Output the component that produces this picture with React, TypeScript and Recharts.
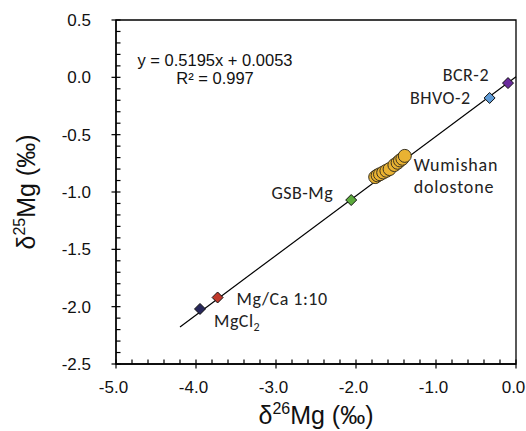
import React from 'react';
import {
  ComposedChart,
  Scatter,
  XAxis,
  YAxis,
  ReferenceArea,
  ReferenceLine,
  Label,
} from 'recharts';

// axis ticks (majors get a label, minors are short inside ticks)
const xTicks = [-5, -4.8, -4.6, -4.4, -4.2, -4, -3.8, -3.6, -3.4, -3.2, -3, -2.8, -2.6, -2.4, -2.2, -2, -1.8, -1.6, -1.4, -1.2, -1, -0.8, -0.6, -0.4, -0.2, 0];
const yTicks = [-2.5, -2.4, -2.3, -2.2, -2.1, -2, -1.9, -1.8, -1.7, -1.6, -1.5, -1.4, -1.3, -1.2, -1.1, -1, -0.9, -0.8, -0.7, -0.6, -0.5, -0.4, -0.3, -0.2, -0.1, 0, 0.1, 0.2, 0.3, 0.4, 0.5];

// reference materials
const refNames = ['BCR-2', 'BHVO-2', 'GSB-Mg', 'Mg/Ca 1:10', 'MgCl2'];
const refD26 = [-0.1, -0.33, -2.06, -3.73, -3.95];
const refD25 = [-0.05, -0.18, -1.07, -1.92, -2.02];

// Wumishan dolostone samples
const wumD26 = [-1.76, -1.73, -1.7, -1.66, -1.62, -1.58, -1.52, -1.48, -1.45, -1.42, -1.39];
const wumD25 = [-0.87, -0.855, -0.845, -0.83, -0.815, -0.8, -0.765, -0.745, -0.725, -0.71, -0.685];

// linear fit
const fitSlope = 0.5195;
const fitIntercept = 0.0053;
const fitR2 = 0.997;
const fitRange = [-4.2, 0];

const refColors: Record<string, string> = {
  'BCR-2': '#6a2a9c',
  'BHVO-2': '#5f9bd6',
  'GSB-Mg': '#5caa3c',
  'Mg/Ca 1:10': '#c0392b',
  MgCl2: '#27275a',
};

// label placement relative to the marker
const labelPos: Record<string, { dx: number; dy: number; anchor: string }> = {
  'BCR-2': { dx: -19, dy: -2, anchor: 'end' },
  'BHVO-2': { dx: -19, dy: 6, anchor: 'end' },
  'GSB-Mg': { dx: -18, dy: -1, anchor: 'end' },
  'Mg/Ca 1:10': { dx: 19, dy: 8, anchor: 'start' },
  MgCl2: { dx: 14, dy: 18, anchor: 'start' },
};

const refData = refNames.map((name, i) => ({ name, x: refD26[i], y: refD25[i] }));
const wumData = wumD26.map((x, i) => ({ x, y: wumD25[i], last: i === wumD26.length - 1 }));

const tickFont = "'Liberation Sans', Arial, sans-serif";
const labelFont = "Carlito, Lato, 'Noto Sans', sans-serif";

const XTick = (props: any) => {
  const { x, y, payload } = props;
  const v = payload.value;
  const major = Math.abs(v - Math.round(v)) < 1e-6;
  return (
    <g>
      <line x1={x} x2={x} y1={y - 4.5} y2={major ? y + 4.5 : y} stroke="#000" strokeWidth={1.2} />
      {major && (
        <text x={x - 2.5} y={y + 29} textAnchor="middle" fontSize={17} fontFamily={tickFont} fill="#111">
          {v.toFixed(1)}
        </text>
      )}
    </g>
  );
};

const YTick = (props: any) => {
  const { x, y, payload } = props;
  const v = payload.value;
  const major = Math.abs(v * 2 - Math.round(v * 2)) < 1e-6;
  return (
    <g>
      <line x1={major ? x - 4.5 : x} x2={x + 4.5} y1={y} y2={y} stroke="#000" strokeWidth={1.2} />
      {major && (
        <text x={x - 25} y={y} dy="0.36em" textAnchor="end" fontSize={17} fontFamily={tickFont} fill="#111">
          {v.toFixed(1)}
        </text>
      )}
    </g>
  );
};

const Diamond = (props: any) => {
  const { cx, cy, payload } = props;
  const r = 5.5;
  const name = payload.name;
  const pos = labelPos[name];
  return (
    <g>
      <path
        d={`M${cx},${cy - r}L${cx + r},${cy}L${cx},${cy + r}L${cx - r},${cy}Z`}
        fill={refColors[name]}
        stroke="#111"
        strokeWidth={1}
      />
      <text
        x={cx + pos.dx}
        y={cy + pos.dy}
        textAnchor={pos.anchor}
        fontSize={18}
        letterSpacing={0.5}
        fontFamily={labelFont}
        fill="#222"
      >
        {name === 'MgCl2' ? (
          <>
            MgCl<tspan dy={4} fontSize={12}>2</tspan>
          </>
        ) : (
          name
        )}
      </text>
    </g>
  );
};

const Dot = (props: any) => {
  const { cx, cy, payload } = props;
  return (
    <g>
      <circle cx={cx} cy={cy} r={6.5} fill="#e9b232" stroke="#3a3320" strokeWidth={1} />
      {payload.last && (
        <text x={cx + 9} y={cy + 15} fontSize={18} letterSpacing={0.8} fontFamily={labelFont} fill="#222">
          <tspan x={cx + 9}>Wumishan</tspan>
          <tspan x={cx + 9} dy={22}>dolostone</tspan>
        </text>
      )}
    </g>
  );
};

const fmt = (n: number) => n.toFixed(4);

export default function App() {
  return (
    <div style={{ position: 'absolute', left: 0, top: 0 }}>
      <ComposedChart width={526} height={431} margin={{ top: 20, right: 10, bottom: 0, left: 0 }}>
        <XAxis
          type="number"
          dataKey="x"
          domain={[-5, 0]}
          ticks={xTicks}
          interval={0}
          tick={<XTick />}
          tickLine={false}
          tickSize={0}
          tickMargin={0}
          height={67}
          axisLine={{ stroke: '#000', strokeWidth: 1.3 }}
          allowDataOverflow
        >
          <Label
            content={(p: any) => {
              const vb = p.viewBox;
              return (
                <text x={vb.x + vb.width / 2} y={vb.y + 60} textAnchor="middle" fontSize={25} fontFamily={tickFont} fill="#111">
                  δ<tspan dy={-10} fontSize={16}>26</tspan>
                  <tspan dy={10}>Mg (‰)</tspan>
                </text>
              );
            }}
          />
        </XAxis>
        <YAxis
          type="number"
          dataKey="y"
          domain={[-2.5, 0.5]}
          ticks={yTicks}
          interval={0}
          tick={<YTick />}
          tickLine={false}
          tickSize={0}
          tickMargin={0}
          width={116}
          axisLine={{ stroke: '#000', strokeWidth: 1.3 }}
          allowDataOverflow
        >
          <Label
            content={(p: any) => {
              const vb = p.viewBox;
              const cx = vb.x + 35;
              const cy = vb.y + vb.height / 2;
              return (
                <text
                  x={cx}
                  y={cy}
                  transform={`rotate(-90 ${cx} ${cy})`}
                  textAnchor="middle"
                  fontSize={25}
                  fontFamily={tickFont}
                  fill="#111"
                >
                  δ<tspan dy={-10} fontSize={16}>25</tspan>
                  <tspan dy={10}>Mg (‰)</tspan>
                </text>
              );
            }}
          />
        </YAxis>
        <ReferenceArea
          x1={-5}
          x2={0}
          y1={-2.5}
          y2={0.5}
          fill="none"
          fillOpacity={0}
          stroke="#000"
          strokeWidth={1.3}
          label={(p: any) => {
            const vb = p.viewBox;
            const cx = vb.x + 99;
            return (
              <g fontSize={16.5} fontFamily={tickFont} fill="#111">
                <text x={cx} y={vb.y + 46} textAnchor="middle">
                  {`y = ${fitSlope}x + ${fmt(fitIntercept)}`}
                </text>
                <text x={cx} y={vb.y + 64} textAnchor="middle">
                  {`R² = ${fitR2}`}
                </text>
              </g>
            );
          }}
        />
        <ReferenceLine
          segment={[
            { x: fitRange[0], y: fitSlope * fitRange[0] + fitIntercept },
            { x: fitRange[1], y: fitSlope * fitRange[1] + fitIntercept },
          ]}
          stroke="#000"
          strokeWidth={1.2}
          ifOverflow="visible"
        />
        <Scatter data={wumData} dataKey="y" shape={<Dot />} isAnimationActive={false} />
        <Scatter data={refData} dataKey="y" shape={<Diamond />} isAnimationActive={false} />
      </ComposedChart>
    </div>
  );
}
